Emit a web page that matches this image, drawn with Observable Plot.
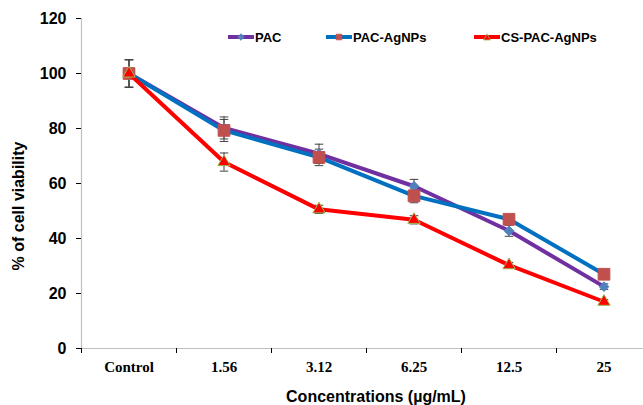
<!DOCTYPE html>
<html>
<head>
<meta charset="utf-8">
<script src="https://cdn.jsdelivr.net/npm/d3@7"></script>
<script src="https://cdn.jsdelivr.net/npm/@observablehq/plot@0.6"></script>
<style>
  html, body { margin: 0; padding: 0; background: #fff; }
  #wrap { position: relative; width: 643px; height: 405px; overflow: hidden; }
  .plot [aria-label="y-axis tick"] path, .plot [aria-label="x-axis tick"] path { stroke: #bfbfbf; }
  #legend { position: absolute; top: 28px; left: 0; width: 643px; height: 18px; font: bold 13px "Liberation Sans", Arial, sans-serif; color: #000; }
  .item { position: absolute; top: 0; display: flex; align-items: center; }
  .item svg { display: block; }
  #ytitle { position: absolute; left: 19px; top: 206px; transform: translate(-50%, -50%) rotate(-90deg); white-space: nowrap; font: bold 16px "Liberation Sans", Arial, sans-serif; }
  #xtitle { position: absolute; left: 376px; top: 397px; transform: translate(-50%, -50%); white-space: nowrap; font: bold 16px "Liberation Sans", Arial, sans-serif; }
</style>
</head>
<body>
<div id="wrap"></div>
<script>
const categories = ["Control", "1.56", "3.12", "6.25", "12.5", "25"];
const seriesNames = ["PAC", "PAC-AgNPs", "CS-PAC-AgNPs"];
const pac      = [100, 80.2, 70.8, 59.0, 42.8, 22.5];
const pacAg    = [100, 79.3, 69.5, 55.5, 47.0, 27.0];
const csPac    = [100, 67.8, 50.6, 46.8, 30.3, 17.0];
const pacErr   = [5, 4.0, 3.5, 2.5, 2.0, 1.0];
const pacAgErr = [5, 4.0, 3.0, 2.5, 1.5, 1.0];
const csPacErr = [5, 3.3, 1.5, 1.5, 1.0, 0.8];
const yTicks   = [0, 20, 40, 60, 80, 100, 120];

const lineColors   = ["#7030A0", "#0070C0", "#FF0000"];
const markerFill   = ["#4F81BD", "#C0504D", "#FF0000"];
const markerStroke = ["#4F81BD", "#C0504D", "#9BBB59"];
const markerSymbol = ["diamond2", "square", "triangle"];
const markerR      = [4.4, 6.6, 4.6];

const values = [pac, pacAg, csPac];
const errs = [pacErr, pacAgErr, csPacErr];
const table = [];
seriesNames.forEach((s, k) => values[k].forEach((v, i) => table.push({s, k, i, v, e: errs[k][i]})));

const boundaries = categories.map((_, i) => i - 0.5);
const capW = 0.045;

const marks = [
  Plot.ruleX([-0.5], {y1: 0, y2: 120, stroke: "#bfbfbf", strokeWidth: 1.2}),
  Plot.ruleY([0], {stroke: "#bfbfbf", strokeWidth: 1.2}),
  Plot.axisY({ticks: yTicks, tickSize: 5, tickPadding: 10, fontSize: 16, fontWeight: "bold", fontFamily: "Liberation Sans, Arial, sans-serif", label: null}),
  Plot.axisX({ticks: boundaries, tickSize: 5, tickFormat: () => "", label: null}),
  Plot.text(categories, {x: (d, i) => i, y: 0, text: d => d, dy: 19, fontSize: 15, fontWeight: "bold", fontFamily: "Liberation Serif, Times New Roman, serif", fill: "#000"}),
  // error bars
  Plot.ruleX(table, {x: "i", y1: d => d.v - d.e, y2: d => d.v + d.e, stroke: "#404040", strokeWidth: 1}),
  Plot.link(table, {x1: d => d.i - capW, x2: d => d.i + capW, y1: d => d.v + d.e, y2: d => d.v + d.e, stroke: "#404040", strokeWidth: 1}),
  Plot.link(table, {x1: d => d.i - capW, x2: d => d.i + capW, y1: d => d.v - d.e, y2: d => d.v - d.e, stroke: "#404040", strokeWidth: 1}),
];
seriesNames.forEach((s, k) => {
  const rows = table.filter(d => d.k === k);
  marks.push(Plot.line(rows, {x: "i", y: "v", stroke: lineColors[k], strokeWidth: 4, strokeLinejoin: "round", strokeLinecap: "round"}));
  marks.push(Plot.dot(rows, {x: "i", y: "v", symbol: markerSymbol[k], r: markerR[k], fill: markerFill[k], stroke: markerStroke[k], strokeWidth: 1}));
});

const chart = Plot.plot({
  width: 643,
  height: 405,
  marginTop: 18,
  marginBottom: 57,
  marginLeft: 81,
  marginRight: 0,
  x: {type: "linear", domain: [-0.5, 5.5], range: [81, 651]},
  y: {domain: [0, 120]},
  style: {background: "#fff", color: "#000"},
  marks
});

const wrap = document.getElementById("wrap");
wrap.appendChild(chart);

// legend
const legend = document.createElement("div");
legend.id = "legend";
const legendX = [227, 325, 473];
seriesNames.forEach((s, k) => {
  const it = document.createElement("div");
  it.className = "item";
  it.style.left = legendX[k] + "px";
  const sym = d3.symbol(
    k === 0 ? d3.symbolDiamond2 : k === 1 ? d3.symbolSquare2 : d3.symbolTriangle2,
    k === 0 ? 28 : k === 1 ? 40 : 34
  )();
  it.innerHTML = `<svg width="28" height="18"><line x1="1" x2="27" y1="9" y2="9" stroke="${lineColors[k]}" stroke-width="4"/>` +
    `<path transform="translate(14,${k===2?10:9})" d="${sym}" fill="${markerFill[k]}" stroke="${markerStroke[k]}" stroke-width="0.8"/></svg>` +
    `<span>${s}</span>`;
  legend.appendChild(it);
});
wrap.appendChild(legend);

const yt = document.createElement("div");
yt.id = "ytitle";
yt.textContent = "% of cell viability";
wrap.appendChild(yt);
const xt = document.createElement("div");
xt.id = "xtitle";
xt.textContent = "Concentrations (µg/mL)";
wrap.appendChild(xt);
</script>
</body>
</html>
